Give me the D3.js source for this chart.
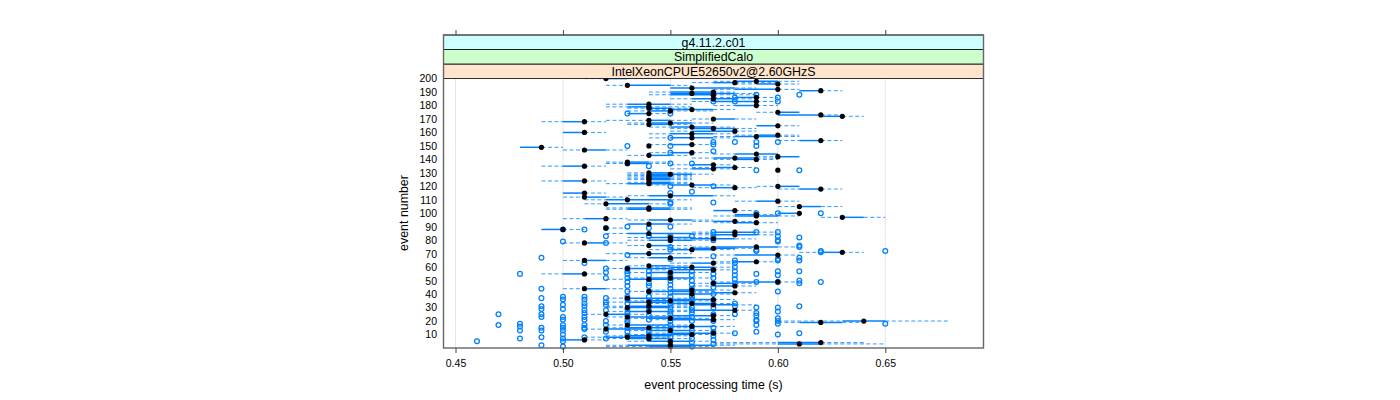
<!DOCTYPE html>
<html><head><meta charset="utf-8"><style>html,body{margin:0;padding:0;background:#fff;overflow:hidden}text{font-family:"Liberation Sans",Arial,sans-serif;fill:#000}</style>
<script src="https://cdnjs.cloudflare.com/ajax/libs/d3/7.8.5/d3.min.js"></script></head><body><svg id="c" width="1400" height="400"></svg>
<script>
// values in hundredths of a second
const events=[200,198,197,196,195,193,192,191,190,189,188,186,185,183,181,180,179,178,177,176,175,174,173,172,170,169,168,167,166,165,164,163,161,160,159,158,157,156,154,151,150,149,147,145,144,143,142,141,140,138,137,136,135,134,133,132,130,129,128,127,126,125,124,123,122,121,120,119,118,115,113,112,110,109,107,105,104,103,102,100,99,98,97,96,95,94,93,92,89,88,86,85,84,82,81,80,78,76,75,74,73,71,70,69,67,65,64,63,61,60,59,58,56,55,52,51,49,48,46,44,43,42,41,40,37,36,35,34,33,32,31,30,28,27,25,24,23,22,21,20,19,17,16,15,14,13,11,10,9,8,7,6,5,4,3,2,1];
const med=[52,59,58,60,53,56,60,62,57,56,57,59,57,59,54,59,54,54,56,55,60,54,62,63,57,54,51,55,54,60,56,57,58,51,56,60,59,56,62,56,54,49,51,56,59,54,60,58,59,53,53,57,51,58,57,60,54,55,54,54,54,54,51,54,54,56,60,58,62,51,55,51,53,60,52,61,54,54,58,61,59,59,63,52,55,58,59,54,52,50,58,54,58,55,57,55,51,54,59,57,56,63,54,60,55,51,59,57,54,56,53,57,55,51,55,54,60,57,58,51,56,54,58,56,53,57,55,54,56,57,54,53,58,54,52,57,53,55,57,64,62,53,56,54,52,55,57,56,54,53,54,51,55,62,61,55,55];
const q1=[52,58,57,59,53,55,58,61,55,55,55,58,56,57,53,58,53,54,55,54,60,53,60,62,57,54,50,54,54,59,55,56,56,50,55,59,58,55,61,55,54,48,51,55,58,54,60,57,58,53,53,56,50,57,56,60,54,54,54,54,54,54,50,54,53,55,60,57,61,50,54,51,52,59,52,61,53,53,57,60,58,58,63,51,54,57,58,53,52,49,57,53,57,54,56,54,51,54,57,56,55,62,53,58,54,51,58,56,54,55,53,55,54,50,54,53,58,57,57,51,55,54,57,55,53,55,54,53,55,56,53,53,56,53,52,55,53,54,55,63,61,53,55,53,52,54,55,54,53,52,53,50,54,60,60,53,54];
const q3=[53,60,58,60,55,58,60,62,57,58,57,59,58,59,55,59,54,55,57,55,61,54,62,63,58,55,51,56,55,60,57,58,58,51,57,60,60,57,62,56,54,49,52,56,60,55,61,59,59,54,54,57,51,58,57,60,55,56,55,55,55,55,51,55,55,57,61,58,62,51,57,52,55,60,54,62,55,55,58,61,59,60,64,52,56,58,59,55,52,50,59,56,59,56,58,56,52,55,60,58,57,63,55,60,56,52,59,57,55,57,55,57,56,51,56,55,60,58,58,52,57,56,58,57,55,57,56,55,57,58,55,55,58,55,53,57,55,56,57,65,63,55,57,55,54,56,57,56,55,54,55,51,56,62,62,57,56];
const lo=[51,57,56,58,52,55,57,61,54,55,54,57,55,56,52,57,52,53,54,53,59,53,60,62,56,52,49,53,53,59,54,55,55,50,54,58,57,54,60,54,54,48,50,54,57,53,59,56,57,52,52,55,49,56,55,60,53,53,53,53,53,53,49,53,52,54,59,56,60,50,53,50,51,58,51,60,52,52,57,60,58,57,62,50,53,56,57,53,52,49,56,52,56,53,55,53,50,53,56,55,54,61,52,57,53,50,57,55,53,54,52,54,53,49,53,52,57,56,56,50,54,53,56,54,52,54,53,52,54,55,52,52,55,52,51,54,52,53,54,60,60,52,54,52,51,53,54,53,52,51,52,50,53,57,57,52,52];
const hi=[54,61,60,61,56,59,61,63,58,59,59,60,59,60,56,60,56,56,58,57,61,55,63,64,59,56,52,57,56,61,58,59,59,52,58,61,61,58,63,57,54,50,53,57,60,56,61,60,60,55,55,58,52,59,58,60,56,57,56,56,56,56,52,56,56,58,61,59,63,52,58,53,56,61,55,63,56,56,59,61,60,61,65,53,57,59,60,56,53,51,60,57,60,57,59,57,53,56,61,59,58,64,56,61,57,53,60,58,56,58,56,58,57,52,57,56,61,59,59,53,58,57,59,58,56,58,57,56,58,59,56,56,59,56,54,58,56,57,58,68,64,56,58,56,55,57,58,57,56,55,56,52,57,64,65,58,57];
const outlierValues=[46,47,48,49,50,51,52,53,54,55,56,57,58,59,60,61,62,65];
const outlierEvents=[
[5],
[25,17],
[55,18,16,13,7],
[67,44,37,31,29,25,23,15,13,8,2],
[88,79,38,36,32,29,23,21,17,15,13,10,7,5,1],
[88,63,38,36,33,31,28,26,23,21,17,15,14,8],
[89,83,78,59,56,52,37,34,32,28,20,17,12,7],
[174,150,137,90,69,59,57,55,52,49,46,42,38,36,33,29,26,24,21,19,15,12,9],
[135,89,83,57,54,51,48,46,42,38,35,31,28,24,21,13,10,7],
[174,156,150,145,137,120,115,108,107,90,83,80,75,73,66,56,54,52,50,47,44,41,38,35,33,30,27,25,22,20,17,14,11,8,5,2],
[137,116,83,57,54,50,47,44,41,38,36,34,30,28,26,23,20,16,13,10,7,4,1],
[188,183,153,151,146,120,108,86,84,82,80,68,58,55,52,48,45,40,35,30,25,20,15,12,9,6,3],
[186,183,153,65,63,60,57,54,51,48,33,31,25,11],
[188,153,150,132,100,86,73,72,55,49,30,26,24,21,20,17,12],
[186,183,153,100,86,83,80,79,66,65,57,54,49,42,30,27,22,20,18,10],
[188,132,82,76,75,67,65,57,50,48,31,11],
[72,71,49,100],
[72,18]];
const xTicks=[0.45,0.5,0.55,0.6,0.65];
const yTicks=d3.range(10,201,10);
const stripLabels=["IntelXeonCPUE52650v2@2.60GHzS","SimplifiedCalo","g4.11.2.c01"];
const stripColors=["#ffe5cc","#ccffcc","#ccffff"];
const blue="#0080ff";

const L=443.5,R=983.5,T=78.5,B=348;
const x=d3.scaleLinear().domain([0.45,0.65]).range([455.5,885.3]);
const y=d3.scaleLinear().domain([10,200]).range([334.5,78.6]);
const svg=d3.select("#c");
const g=svg.append("g");
g.selectAll(".grid").data(xTicks).join("line").attr("x1",d=>x(d)).attr("x2",d=>x(d)).attr("y1",T).attr("y2",B).attr("stroke","#e6e6e6");
const rows=events.map((e,i)=>({e,m:med[i]/100,a:q1[i]/100,b:q3[i]/100,l:lo[i]/100,h:hi[i]/100}));
const wh=g.append("g").attr("stroke",blue).attr("stroke-width",1).attr("stroke-dasharray","4 2.5").attr("stroke-opacity",.8);
wh.selectAll(".l").data(rows).join("line").attr("x1",d=>x(d.l)).attr("x2",d=>x(d.a)).attr("y1",d=>y(d.e)).attr("y2",d=>y(d.e));
wh.selectAll(".h").data(rows).join("line").attr("x1",d=>x(d.b)).attr("x2",d=>x(d.h)).attr("y1",d=>y(d.e)).attr("y2",d=>y(d.e));
g.append("g").attr("stroke",blue).attr("stroke-width",1.5).selectAll("line").data(rows).join("line").attr("x1",d=>x(d.a)).attr("x2",d=>x(d.b)).attr("y1",d=>y(d.e)).attr("y2",d=>y(d.e));
const outs=outlierValues.flatMap((v,i)=>outlierEvents[i].map(e=>({v:v/100,e})));
g.append("g").selectAll("circle").data(outs).join("circle").attr("cx",d=>x(d.v)).attr("cy",d=>y(d.e)).attr("r",2.4).attr("fill","none").attr("stroke",blue).attr("stroke-width",1.25);
g.append("g").selectAll("circle").data(rows).join("circle").attr("cx",d=>x(d.m)).attr("cy",d=>y(d.e)).attr("r",2.6).attr("fill","#000");

// strips
const strips=svg.append("g");
const sy=[64,49.5,35];
stripLabels.forEach((t,i)=>{
 strips.append("rect").attr("x",L).attr("y",sy[i]).attr("width",R-L).attr("height",14.5).attr("fill",stripColors[i]).attr("stroke","#000").attr("stroke-width",.8);
 strips.append("text").attr("x",(L+R)/2).attr("y",sy[i]+11.6).attr("text-anchor","middle").attr("font-size",12.4).text(t);
});
svg.append("rect").attr("x",L).attr("y",35).attr("width",R-L).attr("height",B-35).attr("fill","none").attr("stroke","#666").attr("stroke-width",1.4);

// axes
const ax=d3.axisBottom(x).tickValues(xTicks).tickSize(5).tickFormat(d3.format(".2f"));
const axB=svg.append("g").attr("transform",`translate(0,${B})`).call(ax);
const axT=svg.append("g").attr("transform","translate(0,35)").call(d3.axisTop(x).tickValues(xTicks).tickSize(5).tickFormat(""));
const axL=svg.append("g").attr("transform",`translate(${L},0)`).call(d3.axisLeft(y).tickValues(yTicks).tickSize(0).tickPadding(6.5));
[axB,axT,axL].forEach(a=>{a.select(".domain").remove();a.selectAll("text").attr("font-size",10.5).attr("font-family",'"Liberation Sans",Arial,sans-serif');a.selectAll("line").attr("stroke","#444")});
axB.selectAll("text").attr("dy","1em");
svg.append("text").attr("x",713.5).attr("y",389).attr("text-anchor","middle").attr("font-size",12.4).text("event processing time (s)");
svg.append("text").attr("transform","translate(408,213) rotate(-90)").attr("text-anchor","middle").attr("font-size",12.4).text("event number");
</script></body></html>
